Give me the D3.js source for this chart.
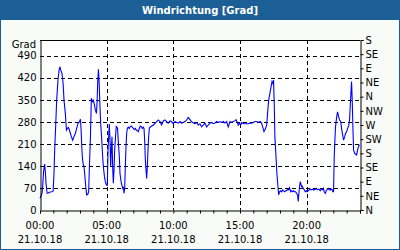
<!DOCTYPE html>
<html>
<head>
<meta charset="utf-8">
<script src="https://cdn.jsdelivr.net/npm/d3@7"></script>
<style>
  body { margin: 0; padding: 0; background: #fff; }
  text { font-family: "DejaVu Sans", Verdana, sans-serif; font-size: 10px; fill: #000; }
  .title { font-weight: bold; fill: #fff; }
</style>
</head>
<body>
<svg id="chart" width="400" height="250"></svg>
<script>
// minutes since 00:00 on 21.10.18
var times = [0, 9, 12, 16, 21, 24, 27, 32, 36, 45, 54, 59, 63, 66, 71, 75, 81, 86, 90, 93, 99, 104, 108, 114, 119, 123, 128, 132, 137, 141, 147, 153, 159, 165, 171, 177, 182, 185, 188, 191, 195, 198, 201, 206, 210, 215, 219, 222, 227, 231, 236, 240, 245, 249, 254, 257, 260, 263, 266, 269, 273, 278, 281, 285, 290, 294, 299,
    303, 306, 309, 312, 315, 318, 321, 324, 327, 330, 333, 336, 340, 343, 346, 349, 352, 357, 360, 366, 372, 375, 378, 381, 384, 387, 390, 393, 397, 402, 406, 411, 415, 420, 424, 429, 433, 438, 442, 447, 451, 456, 460, 465, 468, 471, 474, 477, 480, 483, 486, 489, 492,
    495, 510, 525, 532, 540, 547, 555, 562, 570, 577, 585, 592, 600, 607, 615, 622, 630, 637, 645, 652, 660, 667, 675, 682, 690, 697, 705, 712, 720, 727, 735, 742, 750, 757, 765, 772, 780, 787, 795, 802, 810, 817, 825, 832, 840, 847, 855, 862, 870, 877, 882, 888, 892, 897, 903, 907, 915, 922, 930, 937, 945, 952, 960, 967, 975, 982, 990, 997, 1002, 1008, 1014, 1020, 1024, 1029,
    1040, 1044, 1048, 1051, 1054, 1057, 1062, 1066, 1071, 1074, 1078, 1083, 1087, 1092, 1096, 1101, 1105, 1110, 1114, 1119, 1123, 1128, 1132, 1137, 1141, 1146, 1150, 1155, 1159, 1162, 1165, 1168, 1171, 1174, 1177, 1180, 1185, 1189, 1194, 1198, 1203, 1207, 1212, 1216, 1221, 1225, 1230, 1234, 1239, 1243, 1248, 1252, 1257, 1261, 1266, 1270, 1275, 1279, 1284, 1288, 1293, 1297, 1302, 1306, 1311, 1315, 1318, 1321, 1324, 1327, 1330, 1335, 1339, 1344, 1348, 1353, 1357, 1362, 1366, 1371, 1375, 1380, 1384, 1389, 1393, 1396, 1399, 1402, 1405, 1408, 1411, 1416, 1420, 1425, 1429, 1434, 1438];

var values = [37, 53, 74, 122, 146, 122, 85, 53, 53, 57, 58, 60, 116, 190, 275, 349, 413, 445, 455, 445, 434, 402, 349, 307, 254, 259, 262, 255, 243, 233, 222, 233, 243, 259, 275, 280, 288, 254, 201, 164, 143, 138, 116, 74, 48, 50, 58, 132, 233, 355, 344, 349, 334, 318, 307, 344, 413, 447, 408, 344, 275, 222, 180, 138, 106, 90, 79,
    79, 191, 233, 273, 222, 138, 191, 233, 138, 85, 127, 191, 233, 265, 263, 259, 222, 169, 116, 85, 69, 74, 53, 69, 138, 201, 244, 259, 263, 259, 265, 267, 263, 259, 256, 259, 254, 252, 249, 259, 267, 265, 259, 263, 259, 222, 159, 127, 100, 138, 191, 233, 259,
    263, 270, 281, 286, 281, 270, 283, 286, 281, 276, 283, 281, 274, 281, 278, 276, 281, 276, 278, 281, 286, 294, 287, 281, 276, 274, 278, 270, 274, 264, 270, 276, 264, 270, 276, 278, 274, 276, 281, 278, 281, 278, 281, 276, 281, 264, 281, 278, 281, 283, 287, 278, 270, 276, 270, 278, 274, 274, 274, 274, 276, 276, 278, 281, 281, 278, 281, 276, 264, 249, 257, 270, 306, 349,
    392, 408, 402, 413, 339, 233, 169, 116, 74, 48, 58, 61, 58, 64, 61, 58, 61, 61, 66, 64, 71, 58, 61, 58, 61, 58, 58, 53, 48, 27, 53, 74, 90, 83, 74, 76, 69, 64, 58, 61, 58, 61, 64, 66, 64, 66, 64, 64, 66, 69, 64, 66, 66, 61, 66, 64, 69, 58, 53, 61, 66, 69, 64, 64, 66, 64, 58, 58, 169, 222, 265, 296, 312, 296, 286, 281, 259, 238, 222, 233, 243, 249, 259, 267, 286, 328, 371, 408, 349, 265, 191, 180, 178, 175, 191, 203, 207];

var leftTicks = [0, 70, 140, 210, 280, 350, 420, 490];
var compassTicks = [0, 45, 90, 135, 180, 225, 270, 315, 360, 405, 450, 495, 540];
var compassLabels = ["N", "NE", "E", "SE", "S", "SW", "W", "NW", "N", "NE", "E", "SE", "S"];
var timeLabels = [0, 300, 600, 900, 1200];
var dateLabel = "21.10.18";

var width = 400,
    height = 250,
    margin = { top: 40, right: 40, bottom: 40, left: 40 },
    plotW = width - margin.left - margin.right,
    plotH = height - margin.top - margin.bottom;

var xScale = d3.scaleLinear().domain([0, 1440]).range([margin.left, margin.left + plotW]);
var yScale = d3.scaleLinear().domain([0, 540]).range([margin.top + plotH, margin.top]);

var svg = d3.select('#chart');

// frame
svg.append('rect').attr('width', width).attr('height', height).attr('fill', '#1c5f96');
svg.append('rect').attr('x', 1).attr('y', 20).attr('width', width - 2).attr('height', height - 21).attr('fill', '#f9fbf9');
svg.append('text').attr('class', 'title')
    .attr('x', width / 2).attr('y', 14)
    .attr('text-anchor', 'middle')
    .text('Windrichtung [Grad]');

svg.append('rect')
    .attr('x', margin.left).attr('y', margin.top)
    .attr('width', plotW).attr('height', plotH)
    .attr('fill', '#fff');

function hhmm(m) {
    var h = Math.floor(m / 60), mm = m % 60;
    return (h < 10 ? '0' : '') + h + ':' + (mm < 10 ? '0' : '') + mm;
}

// grid
svg.append('g').selectAll('line')
    .data(leftTicks.filter(function(d) { return d > 0; }))
    .enter().append('line')
    .attr('x1', margin.left).attr('x2', margin.left + plotW)
    .attr('y1', function(d) { return Math.round(yScale(d)) + 0.5; })
    .attr('y2', function(d) { return Math.round(yScale(d)) + 0.5; })
    .attr('stroke', '#000').attr('stroke-dasharray', '4,3');

svg.append('g').selectAll('line')
    .data(timeLabels.filter(function(d) { return d > 0; }))
    .enter().append('line')
    .attr('x1', function(d) { return Math.round(xScale(d)) + 0.5; })
    .attr('x2', function(d) { return Math.round(xScale(d)) + 0.5; })
    .attr('y1', margin.top).attr('y2', margin.top + plotH)
    .attr('stroke', '#000').attr('stroke-dasharray', '4,3');

// data line
var line = d3.line()
    .x(function(d, i) { return xScale(times[i]); })
    .y(function(d) { return yScale(d); });

svg.append('path')
    .datum(values)
    .attr('d', line)
    .attr('fill', 'none')
    .attr('stroke', '#0000ff')
    .attr('stroke-width', 1.1);

// axes
var xAxis = d3.axisBottom(xScale)
    .tickValues(d3.range(0, 1441, 60))
    .tickSize(3)
    .tickFormat('');
svg.append('g')
    .attr('transform', 'translate(0,' + (margin.top + plotH + 0.5) + ')')
    .call(xAxis)
    .call(function(g) { g.select('.domain').attr('stroke', '#000'); });

var xl = svg.append('g').selectAll('text')
    .data(timeLabels)
    .enter().append('text')
    .attr('x', function(d) { return xScale(d); })
    .attr('text-anchor', 'middle');
xl.append('tspan').attr('y', 229).attr('x', function(d) { return xScale(d); }).text(function(d) { return hhmm(d); });
xl.append('tspan').attr('y', 243).attr('x', function(d) { return xScale(d); }).text(dateLabel);

var yAxis = d3.axisLeft(yScale)
    .tickValues(leftTicks)
    .tickSize(0)
    .tickPadding(4);
svg.append('g')
    .attr('transform', 'translate(' + (margin.left + 0.5) + ',0)')
    .call(yAxis)
    .call(function(g) {
        g.select('.domain').attr('stroke', '#000');
        g.selectAll('text').style('font-size', '10px').style('font-family', '"DejaVu Sans", sans-serif');
    });

svg.append('text')
    .attr('x', 36).attr('y', 48)
    .attr('text-anchor', 'end')
    .text('Grad');

var rAxis = d3.axisRight(yScale)
    .tickValues(compassTicks)
    .tickSize(3)
    .tickPadding(2)
    .tickFormat(function(d, i) { return compassLabels[i]; });
svg.append('g')
    .attr('transform', 'translate(' + (margin.left + plotW + 0.5) + ',0)')
    .call(rAxis)
    .call(function(g) {
        g.select('.domain').attr('stroke', '#000');
        g.selectAll('text').style('font-size', '10px').style('font-family', '"DejaVu Sans", sans-serif');
    });

// top border
svg.append('line')
    .attr('x1', margin.left).attr('x2', margin.left + plotW)
    .attr('y1', margin.top + 0.5).attr('y2', margin.top + 0.5)
    .attr('stroke', '#000');
</script>
</body>
</html>
